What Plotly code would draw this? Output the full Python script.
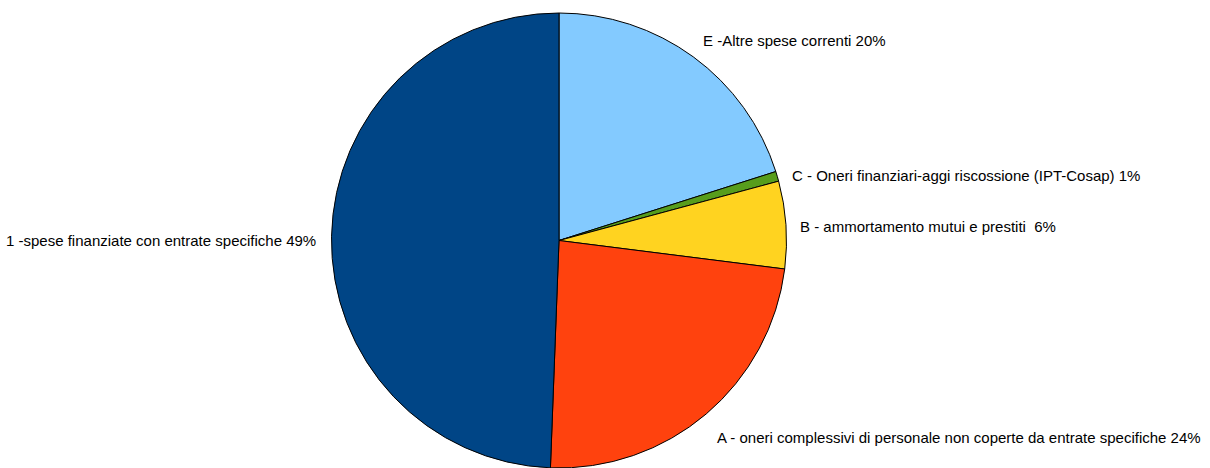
import plotly.graph_objects as go

categories = [
    "E -Altre spese correnti",
    "C - Oneri finanziari-aggi riscossione (IPT-Cosap)",
    "B - ammortamento mutui e prestiti ",
    "A - oneri complessivi di personale non coperte da entrate specifiche",
    "1 -spese finanziate con entrate specifiche",
]
values = [20.1, 0.7, 6.2, 23.6, 49.4]
colors = ["#83CAFF", "#579D1C", "#FFD320", "#FF420E", "#004586"]

total = sum(values)
label_texts = [f"{c} {round(v / total * 100)}%" for c, v in zip(categories, values)]

# label anchor positions (pixels) and alignment
label_pos = [
    (701, 40, "left"),
    (790, 175, "left"),
    (798, 226, "left"),
    (715, 437, "left"),
    (318, 241, "right"),
]

W, H = 1210, 468
cx = 559
fig = go.Figure(go.Pie(
    labels=categories,
    values=values,
    sort=False,
    direction="clockwise",
    rotation=0,
    marker=dict(colors=colors, line=dict(color="#000000", width=1)),
    textinfo="none",
    hoverinfo="skip",
    showlegend=False,
    domain=dict(x=[(cx - 300) / W, (cx + 300) / W], y=[0, 1 - 13 / H]),
))

annotations = []
for txt, (px, py, al) in zip(label_texts, label_pos):
    annotations.append(dict(
        x=px / W, y=1 - py / H, xref="paper", yref="paper",
        text=txt, showarrow=False,
        xanchor=al, yanchor="middle",
        font=dict(family="Liberation Sans, Arial, sans-serif", size=15, color="#000000"),
    ))

fig.update_layout(
    width=W, height=H,
    margin=dict(l=0, r=0, t=0, b=0),
    paper_bgcolor="#FFFFFF",
    plot_bgcolor="#FFFFFF",
    annotations=annotations,
)

fig.write_html("out.html")
